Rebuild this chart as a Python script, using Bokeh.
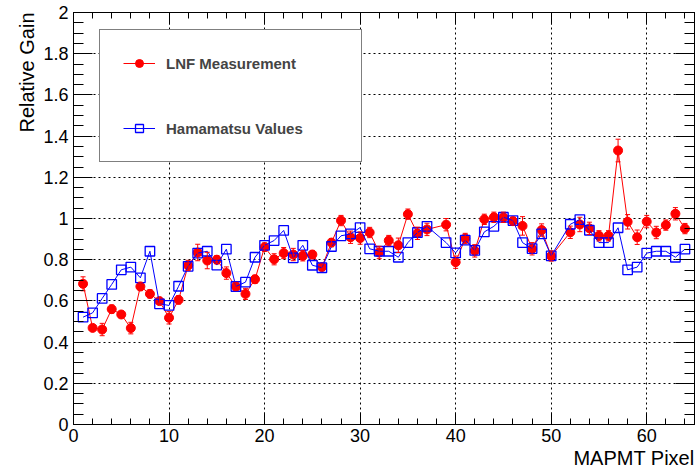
import numpy as np
from bokeh.plotting import figure
from bokeh.models import (ColumnDataSource, Range1d, LinearAxis, FixedTicker,
                          Whisker, TeeHead, Title, Legend, LegendItem,
                          CustomLabelingPolicy)
from bokeh.embed import file_html
from bokeh.resources import INLINE

# ---------------- data ----------------
pixel = [1, 2, 3, 4, 5, 6, 7, 8, 9, 10,
         11, 12, 13, 14, 15, 16, 17, 18, 19, 20,
         21, 22, 23, 24, 25, 26, 27, 28, 29, 30,
         31, 32, 33, 34, 35, 36, 37,
         39, 40, 41, 42, 43, 44, 45, 46, 47, 48, 49, 50,
         52, 53, 54, 55, 56, 57, 58, 59, 60, 61, 62, 63, 64]

lnf_gain = [0.683, 0.469, 0.461, 0.560, 0.534, 0.468, 0.670, 0.634, 0.599, 0.518,
            0.605, 0.772, 0.835, 0.796, 0.800, 0.735, 0.670, 0.634, 0.705, 0.861,
            0.802, 0.832, 0.825, 0.819, 0.825, 0.764, 0.883, 0.990, 0.909, 0.905,
            0.932, 0.835, 0.893, 0.870, 1.021, 0.928, 0.947,
            0.970, 0.788, 0.903, 0.843, 0.996, 1.006, 1.006, 0.987, 0.964, 0.853, 0.944, 0.818,
            0.933, 0.971, 0.952, 0.916, 0.916, 1.330, 0.984, 0.909, 0.985, 0.932, 0.968, 1.023, 0.951]

lnf_err = [0.034, 0.015, 0.030, 0.020, 0.015, 0.028, 0.020, 0.020, 0.015, 0.030,
           0.020, 0.025, 0.040, 0.040, 0.020, 0.030, 0.020, 0.027, 0.020, 0.020,
           0.027, 0.027, 0.030, 0.025, 0.020, 0.015, 0.020, 0.025, 0.030, 0.030,
           0.025, 0.030, 0.025, 0.035, 0.025, 0.030, 0.030,
           0.030, 0.030, 0.025, 0.030, 0.025, 0.025, 0.025, 0.020, 0.045, 0.030, 0.030, 0.025,
           0.030, 0.035, 0.030, 0.025, 0.025, 0.055, 0.035, 0.035, 0.030, 0.030, 0.025, 0.030, 0.025]

hamamatsu_gain = [0.521, 0.542, 0.612, 0.680, 0.751, 0.764, 0.712, 0.841, 0.586, 0.578,
                  0.671, 0.768, 0.832, 0.841, 0.774, 0.851, 0.670, 0.691, 0.812, 0.870,
                  0.893, 0.942, 0.809, 0.870, 0.773, 0.761, 0.864, 0.916, 0.925, 0.956,
                  0.853, 0.841, 0.841, 0.812, 0.883, 0.932, 0.962,
                  0.883, 0.833, 0.895, 0.845, 0.935, 0.962, 1.006, 0.990, 0.883, 0.854, 0.925, 0.819,
                  0.972, 0.995, 0.943, 0.883, 0.883, 0.955, 0.751, 0.764, 0.832, 0.841, 0.841, 0.812, 0.851]

x_ticks = [0, 10, 20, 30, 40, 50, 60]
y_ticks = [0, 0.2, 0.4, 0.6, 0.8, 1.0, 1.2, 1.4, 1.6, 1.8, 2.0]
y_tick_labels = ["0", "0.2", "0.4", "0.6", "0.8", "1", "1.2", "1.4", "1.6", "1.8", "2"]

FONT = "Liberation Sans"

src_lnf = ColumnDataSource(dict(
    x=pixel, y=lnf_gain,
    up=[g + e for g, e in zip(lnf_gain, lnf_err)],
    lo=[g - e for g, e in zip(lnf_gain, lnf_err)]))
src_ham = ColumnDataSource(dict(x=pixel, y=hamamatsu_gain))

p = figure(width=696, height=472, x_range=Range1d(0, 65), y_range=Range1d(0, 2),
           output_backend="svg", toolbar_location=None,
           min_border_left=73, min_border_right=2, min_border_top=12, min_border_bottom=48,
           background_fill_color="white", border_fill_color="white")
p.outline_line_color = "black"
p.outline_line_width = 1

xticker = FixedTicker(ticks=x_ticks, minor_ticks=list(range(0, 66, 2)))
yticker = FixedTicker(ticks=y_ticks, minor_ticks=[round(v, 2) for v in np.arange(0, 2.001, 0.05)])

no_labels = CustomLabelingPolicy(code="""
try {
  for (let i = 0; i < indices.size; i++) { indices.unset(i) }
} catch (e) {}
return indices
""")

def style_axis(ax, tick_in, minor_in, labels=True):
    ax.axis_line_color = "black"
    ax.axis_line_width = 1
    ax.major_tick_in = tick_in
    ax.major_tick_out = 0
    ax.minor_tick_in = minor_in
    ax.minor_tick_out = 0
    ax.major_tick_line_color = "black"
    ax.minor_tick_line_color = "black"
    ax.axis_label = None
    if labels:
        ax.major_label_text_font = FONT
        ax.major_label_text_font_size = "18px"
        ax.major_label_text_color = "black"
    else:
        ax.major_label_text_font_size = "0px"
        ax.major_label_standoff = 0
        ax.major_label_policy = no_labels

xa = p.xaxis[0]
xa.ticker = xticker
style_axis(xa, 12, 6)
xa.major_label_standoff = 4

ya = p.yaxis[0]
ya.ticker = yticker
style_axis(ya, 19, 10)
ya.major_label_standoff = 5
ya.major_label_overrides = {t: s for t, s in zip(y_ticks, y_tick_labels)}

top = LinearAxis(ticker=xticker)
style_axis(top, 12, 6, labels=False)
p.add_layout(top, "above")
right = LinearAxis(ticker=yticker)
style_axis(right, 19, 10, labels=False)
p.add_layout(right, "right")

for g, t in ((p.xgrid[0], xticker), (p.ygrid[0], yticker)):
    g.ticker = t
    g.grid_line_color = "black"
    g.grid_line_dash = "2 3"
    g.grid_line_width = 1

# ---------------- series ----------------
whisk = Whisker(base="x", upper="up", lower="lo", source=src_lnf, dimension="height",
                line_color="#ff0000", line_width=1, level="glyph",
                upper_head=TeeHead(size=5, line_color="#ff0000", line_width=1),
                lower_head=TeeHead(size=5, line_color="#ff0000", line_width=1))
p.add_layout(whisk)

rl = p.line("x", "y", source=src_lnf, line_color="#ff0000", line_width=1)
rs = p.scatter("x", "y", source=src_lnf, marker="circle", size=9,
               fill_color="#ff0000", line_color="#ff0000")
bl = p.line("x", "y", source=src_ham, line_color="#0000ff", line_width=1)
bs = p.scatter("x", "y", source=src_ham, marker="square", size=9.5,
               fill_alpha=0, line_color="#0000ff", line_width=1.3)

legend = Legend(items=[LegendItem(label="LNF Measurement", renderers=[rl, rs]),
                       LegendItem(label="Hamamatsu Values", renderers=[bl, bs])],
                location=(26, 262), margin=0, padding=23, spacing=45,
                glyph_width=32, glyph_height=20, label_height=20, label_width=172,
                label_standoff=11,
                label_text_font=FONT, label_text_font_style="bold",
                label_text_font_size="15px",
                border_line_color="black", border_line_width=1,
                background_fill_color="white", background_fill_alpha=1)
p.add_layout(legend)

# ---------------- axis titles ----------------
p.add_layout(Title(text="MAPMT Pixel", align="right", standoff=0,
                   text_font=FONT, text_font_size="20px", text_font_style="normal",
                   text_color="black"), "below")
p.add_layout(Title(text="Relative Gain", align="right", standoff=5,
                   text_font=FONT, text_font_size="20px", text_font_style="normal",
                   text_color="black"), "left")

open("out.html", "w").write(file_html(p, INLINE))
